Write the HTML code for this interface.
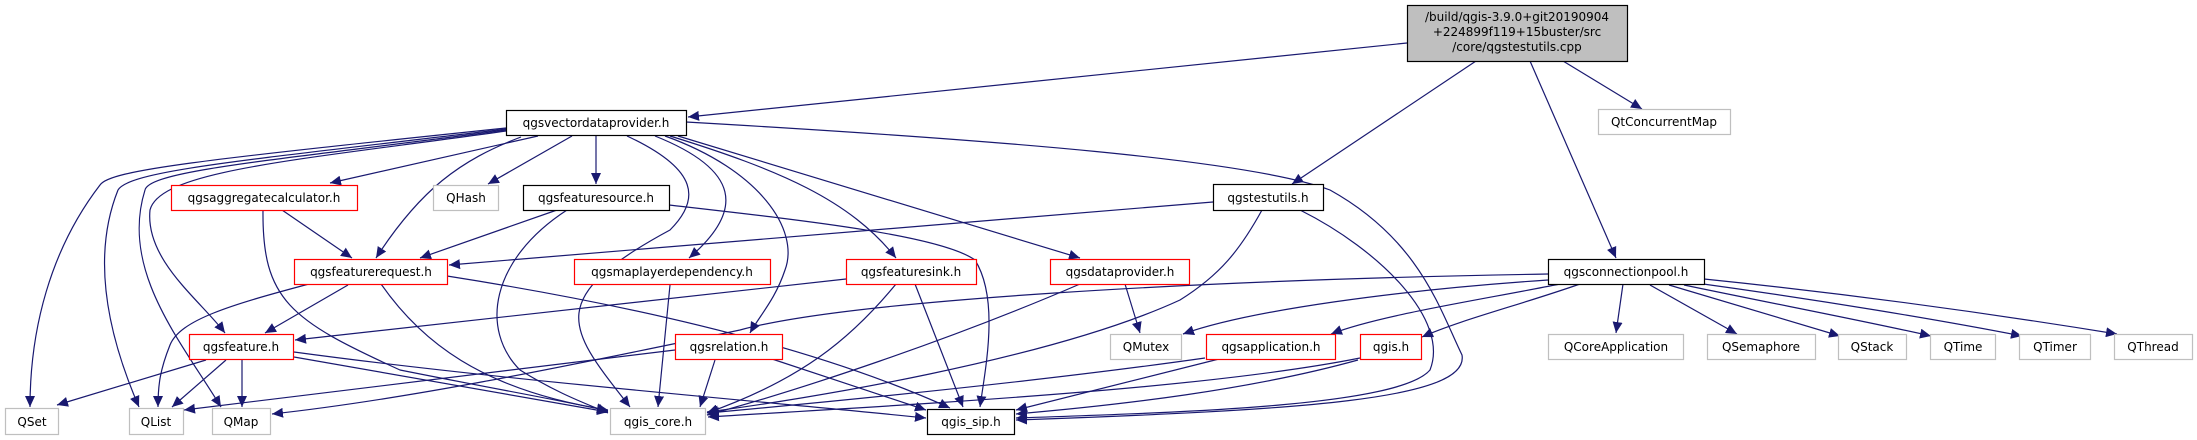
<!DOCTYPE html>
<html><head><meta charset="utf-8"><style>
html,body{margin:0;padding:0;background:#fff;}
svg{display:block;}
text{font-family:"DejaVu Sans","Liberation Sans",sans-serif;font-size:12px;fill:#000;text-anchor:middle;}
.e{fill:none;stroke:#191970;stroke-width:1.2;marker-end:url(#a);}
.k{fill:#fff;stroke:#000;stroke-width:1.2;}
.r{fill:#fff;stroke:#ff0000;stroke-width:1.2;}
.g{fill:#fff;stroke:#bfbfbf;stroke-width:1.2;}
</style></head><body>
<svg width="2197" height="440" viewBox="0 0 2197 440" xmlns="http://www.w3.org/2000/svg">
<defs><marker id="a" markerUnits="userSpaceOnUse" markerWidth="12" markerHeight="10" refX="11" refY="5" orient="auto"><path d="M0,0 L11,5 L0,10 z" fill="#191970"/></marker></defs>
<!-- edges -->
<g>
<path class="e" d="M1407,43 L688,117"/>
<path class="e" d="M1476,61 L1292,184"/>
<path class="e" d="M1530,61 L1616,258"/>
<path class="e" d="M1563,61 L1642,109"/>

<path class="e" d="M506,128 C200,160 110,170 100,185 C50,250 30,330 30,407"/>
<path class="e" d="M506,129 C250,160 130,170 118,190 C90,260 110,340 139,407"/>
<path class="e" d="M506,130 C280,160 150,170 145,190 C120,270 180,340 221,407"/>
<path class="e" d="M506,131 C300,160 160,170 150,210 C145,260 200,300 225,333"/>
<path class="e" d="M538,136 L330,183"/>
<path class="e" d="M521,137 C460,160 420,190 376,258"/>
<path class="e" d="M572,136 L488,184"/>
<path class="e" d="M596,136 L596,184"/>
<path class="e" d="M627,136 C700,170 700,200 670,230 C540,300 570,330 630,407"/>
<path class="e" d="M655,136 C740,170 745,210 689,258"/>
<path class="e" d="M670,136 C780,170 850,200 896,258"/>
<path class="e" d="M678,136 L1080,258"/>
<path class="e" d="M665,136 C760,170 800,230 785,270 C775,300 760,315 750,333"/>
<path class="e" d="M686,122 C1000,140 1250,160 1330,190 C1420,240 1440,310 1462,355 C1470,400 1300,410 1016,420"/>

<path class="e" d="M282,210 L352,258"/>
<path class="e" d="M263,210 C262,300 290,320 400,370 C500,390 560,400 608,411"/>
<path class="e" d="M557,210 L420,258"/>
<path class="e" d="M567,210 C490,260 480,330 520,370 C560,395 590,405 608,413"/>
<path class="e" d="M669,205 C800,220 940,235 975,260 C1000,300 985,370 980,407"/>

<path class="e" d="M1213,202 L449,265"/>
<path class="e" d="M1262,210 C1240,250 1220,275 1180,300 C1050,360 800,400 707,412"/>
<path class="e" d="M1300,210 C1380,250 1450,320 1430,370 C1400,405 1200,412 1016,418"/>

<path class="e" d="M309,284 C230,305 180,320 170,345 C160,370 158,385 158,407"/>
<path class="e" d="M348,285 L265,333"/>
<path class="e" d="M381,284 C420,340 480,390 608,410"/>
<path class="e" d="M447,276 C600,300 800,340 950,408"/>

<path class="e" d="M670,285 L658,407"/>
<path class="e" d="M846,279 L295,340"/>
<path class="e" d="M896,284 C850,340 800,380 707,413"/>
<path class="e" d="M915,284 L963,407"/>
<path class="e" d="M1125,284 L1140,333"/>
<path class="e" d="M1080,284 C950,340 800,390 707,415"/>

<path class="e" d="M206,360 L57,405"/>
<path class="e" d="M226,360 L172,407"/>
<path class="e" d="M242,360 L242,407"/>
<path class="e" d="M294,357 L608,412"/>
<path class="e" d="M294,352 C500,380 750,400 926,418"/>

<path class="e" d="M675,350 L184,410"/>
<path class="e" d="M715,360 L700,407"/>
<path class="e" d="M769,358 L926,410"/>

<path class="e" d="M1548,274 C1200,280 850,300 740,330 C550,370 400,400 272,414"/>
<path class="e" d="M1548,280 C1400,290 1250,310 1183,334"/>
<path class="e" d="M1560,284 C1480,300 1380,315 1331,334"/>
<path class="e" d="M1580,284 C1520,305 1460,320 1422,337"/>
<path class="e" d="M1623,284 L1616,333"/>
<path class="e" d="M1650,285 L1737,334"/>
<path class="e" d="M1669,285 L1840,336"/>
<path class="e" d="M1684,285 C1780,305 1860,320 1931,336"/>
<path class="e" d="M1696,283 C1820,300 1940,320 2022,336"/>
<path class="e" d="M1704,279 C1860,295 2000,315 2117,334"/>

<path class="e" d="M1205,358 C1050,380 850,400 708,413"/>
<path class="e" d="M1219,359 L1016,410"/>
<path class="e" d="M1360,358 C1200,390 900,405 708,417"/>
<path class="e" d="M1358,360 C1250,390 1120,405 1016,414"/>
</g>
<!-- nodes -->
<rect x="1407.5" y="5.5" width="220" height="56" fill="#bfbfbf" stroke="#000" stroke-width="1.2"/>
<text x="1517" y="21">/build/qgis-3.9.0+git20190904</text>
<text x="1517" y="36">+224899f119+15buster/src</text>
<text x="1517" y="51">/core/qgstestutils.cpp</text>

<rect class="k" x="506.5" y="110.5" width="180" height="25"/><text x="596" y="127">qgsvectordataprovider.h</text>
<rect class="g" x="1598.5" y="109.5" width="132" height="25"/><text x="1664" y="126">QtConcurrentMap</text>

<rect class="r" x="171.5" y="185.5" width="186" height="25"/><text x="264" y="202">qgsaggregatecalculator.h</text>
<rect class="g" x="433.5" y="185.5" width="65" height="25"/><text x="466" y="202">QHash</text>
<rect class="k" x="523.5" y="185.5" width="146" height="25"/><text x="596" y="202">qgsfeaturesource.h</text>
<rect class="k" x="1213.5" y="184.5" width="110" height="26"/><text x="1268" y="202">qgstestutils.h</text>

<rect class="r" x="294.5" y="259.5" width="153" height="25"/><text x="371" y="276">qgsfeaturerequest.h</text>
<rect class="r" x="574.5" y="259.5" width="196" height="25"/><text x="672" y="276">qgsmaplayerdependency.h</text>
<rect class="r" x="846.5" y="259.5" width="130" height="25"/><text x="911" y="276">qgsfeaturesink.h</text>
<rect class="r" x="1050.5" y="259.5" width="139" height="25"/><text x="1120" y="276">qgsdataprovider.h</text>
<rect class="k" x="1548.5" y="259.5" width="156" height="25"/><text x="1626" y="276">qgsconnectionpool.h</text>

<rect class="r" x="189.5" y="334.5" width="104" height="25"/><text x="241" y="351">qgsfeature.h</text>
<rect class="r" x="675.5" y="334.5" width="107" height="25"/><text x="729" y="351">qgsrelation.h</text>
<rect class="g" x="1110.5" y="334.5" width="71" height="25"/><text x="1146" y="351">QMutex</text>
<rect class="r" x="1206.5" y="334.5" width="129" height="25"/><text x="1271" y="351">qgsapplication.h</text>
<rect class="r" x="1360.5" y="334.5" width="61" height="25"/><text x="1391" y="351">qgis.h</text>
<rect class="g" x="1548.5" y="334.5" width="135" height="25"/><text x="1616" y="351">QCoreApplication</text>
<rect class="g" x="1707.5" y="334.5" width="108" height="25"/><text x="1761" y="351">QSemaphore</text>
<rect class="g" x="1838.5" y="334.5" width="68" height="25"/><text x="1872" y="351">QStack</text>
<rect class="g" x="1930.5" y="334.5" width="65" height="25"/><text x="1963" y="351">QTime</text>
<rect class="g" x="2019.5" y="334.5" width="71" height="25"/><text x="2055" y="351">QTimer</text>
<rect class="g" x="2114.5" y="334.5" width="78" height="25"/><text x="2153" y="351">QThread</text>

<rect class="g" x="5.5" y="408.5" width="53" height="26"/><text x="32" y="426">QSet</text>
<rect class="g" x="129.5" y="408.5" width="54" height="26"/><text x="156" y="426">QList</text>
<rect class="g" x="212.5" y="408.5" width="58" height="26"/><text x="241" y="426">QMap</text>
<rect class="g" x="610.5" y="408.5" width="95" height="26"/><text x="658" y="426">qgis_core.h</text>
<rect class="k" x="927.5" y="409.5" width="87" height="25"/><text x="971" y="426">qgis_sip.h</text>
</svg>
</body></html>
